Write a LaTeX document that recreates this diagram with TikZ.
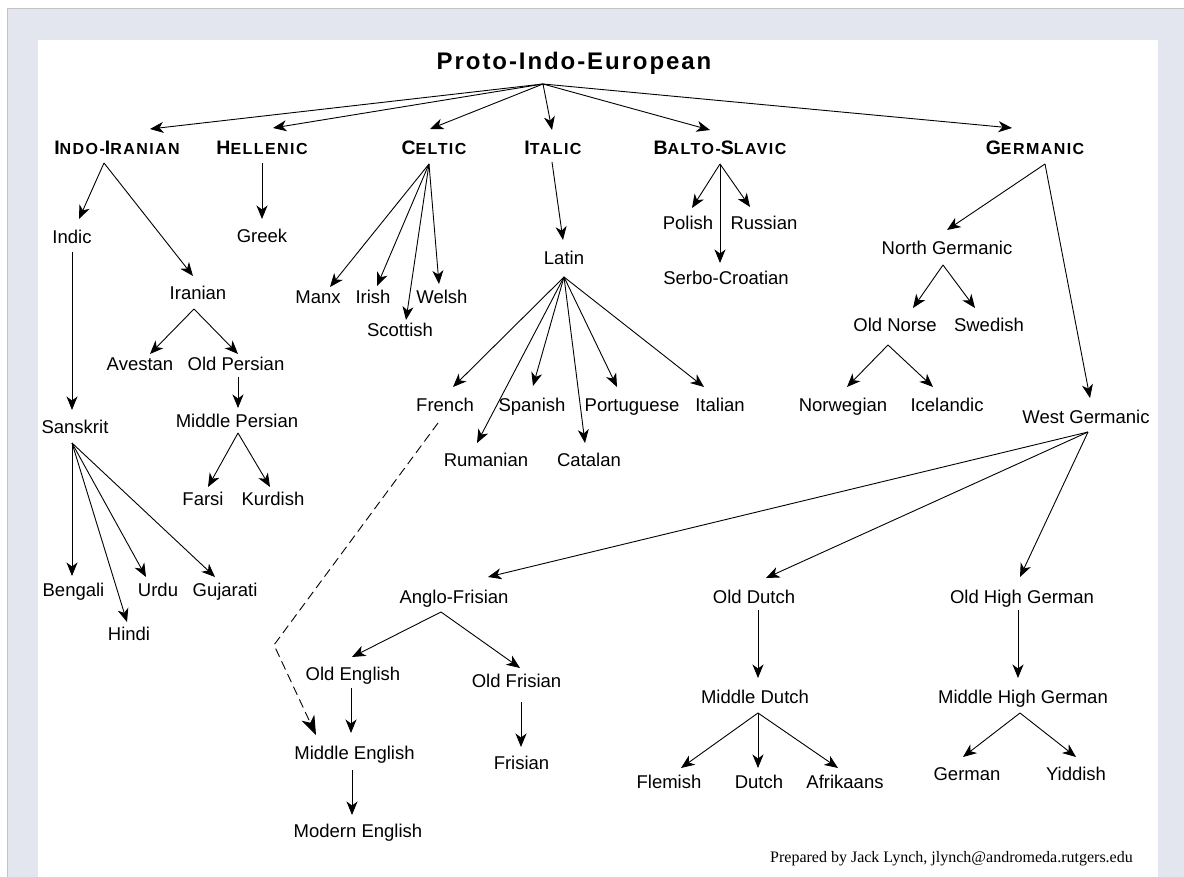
\documentclass[tikz,border=0pt]{standalone}
\usepackage{fontspec}
\setmainfont{Liberation Sans}
\newfontfamily\hdfont[LetterSpace=9]{Liberation Sans}
\newfontfamily\ttlfont[LetterSpace=8]{Liberation Sans}
\newfontfamily\crfont{Liberation Serif}
\usetikzlibrary{arrows.meta,calc}
\definecolor{pagebg}{RGB}{227,230,238}
\definecolor{edgegray}{RGB}{195,195,195}
\newcommand\HC[2]{{\fontsize{19.5}{21}\selectfont #1}{\fontsize{16}{18}\selectfont #2}}
\newcommand\edgeto[4]{\draw[arr] (#1) -- ($(#2.base)+(#3,#4)$);}
\tikzset{
 lbl/.style={font=\fontsize{18.5}{20}\selectfont, inner sep=0pt, anchor=base},
 hd/.style={font=\hdfont\bfseries, inner sep=0pt, anchor=base},
 arr/.style={line width=0.9pt, -{Stealth[length=13.5pt,width=11pt,inset=4pt]}},
 darr/.style={line width=0.9pt, dash pattern=on 9pt off 5pt, -{Stealth[length=19pt,width=14pt,inset=5.5pt]}},
}
\begin{document}
\begin{tikzpicture}[x=1pt,y=-1pt]
\useasboundingbox (0,0) rectangle (1184,877);
% background
\fill[white] (0,0) rectangle (1184,877);
\fill[pagebg] (7,8) rectangle (1184,877);
\draw[edgegray, line width=1pt] (7,877) -- (7,8.5) -- (1184,8.5);
\fill[white] (38,40) rectangle (1158,877);

% title and headings
\node[inner sep=0pt, anchor=base, font=\ttlfont\bfseries\fontsize{24}{28}\selectfont] (pie) at (574,70) {Proto-Indo-European};
\node[hd] (ii)  at (117,155) {\HC{I}{NDO-}\HC{I}{RANIAN}};
\node[hd] (hel) at (262,155) {\HC{H}{ELLENIC}};
\node[hd] (cel) at (434,155) {\HC{C}{ELTIC}};
\node[hd] (ita) at (553,155) {\HC{I}{TALIC}};
\node[hd] (bs)  at (720,155) {\HC{B}{ALTO-}\HC{S}{LAVIC}};
\node[hd] (ger) at (1035,155) {\HC{G}{ERMANIC}};

% Indo-Iranian
\node[lbl] (indic) at (72,244) {Indic};
\node[lbl] (iranian) at (198,300) {Iranian};
\node[lbl] (avestan) at (140,371) {Avestan};
\node[lbl] (oldpersian) at (236,371) {Old Persian};
\node[lbl] (midpersian) at (237,428) {Middle Persian};
\node[lbl] (farsi) at (203,505) {Farsi};
\node[lbl] (kurdish) at (273,505) {Kurdish};
\node[lbl] (sanskrit) at (75,433) {Sanskrit};
\node[lbl] (bengali) at (73.5,596) {Bengali};
\node[lbl] (urdu) at (158,596) {Urdu};
\node[lbl] (gujarati) at (225,596) {Gujarati};
\node[lbl] (hindi) at (129,640) {Hindi};
% Hellenic
\node[lbl] (greek) at (262,243) {Greek};
% Celtic
\node[lbl] (manx) at (318,304) {Manx};
\node[lbl] (irish) at (373,304) {Irish};
\node[lbl] (welsh) at (442,304) {Welsh};
\node[lbl] (scottish) at (400,337) {Scottish};
% Italic
\node[lbl] (latin) at (564,265) {Latin};
\node[lbl] (french) at (445,411) {French};
\node[lbl] (spanish) at (532,411) {Spanish};
\node[lbl] (portuguese) at (632,411) {Portuguese};
\node[lbl] (italian) at (720,411) {Italian};
\node[lbl] (rumanian) at (486,466) {Rumanian};
\node[lbl] (catalan) at (589,466) {Catalan};
% Balto-Slavic
\node[lbl] (polish) at (688,230) {Polish};
\node[lbl] (russian) at (764,230) {Russian};
\node[lbl] (serbo) at (726,285) {Serbo-Croatian};
% Germanic
\node[lbl] (northgerm) at (947,255) {North Germanic};
\node[lbl] (oldnorse) at (895,332) {Old Norse};
\node[lbl] (swedish) at (989,332) {Swedish};
\node[lbl] (norwegian) at (843,411) {Norwegian};
\node[lbl] (icelandic) at (947,411) {Icelandic};
\node[lbl] (westgerm) at (1086,423) {West Germanic};
\node[lbl] (anglofris) at (454,603) {Anglo-Frisian};
\node[lbl] (olddutch) at (754,603) {Old Dutch};
\node[lbl] (ohg) at (1022,603) {Old High German};
\node[lbl] (oldenglish) at (353,680) {Old English};
\node[lbl] (oldfrisian) at (516.5,687) {Old Frisian};
\node[lbl] (midenglish) at (354.5,759) {Middle English};
\node[lbl] (modenglish) at (358,837) {Modern English};
\node[lbl] (frisian) at (521.5,769) {Frisian};
\node[lbl] (middutch) at (755,703) {Middle Dutch};
\node[lbl] (flemish) at (669,788) {Flemish};
\node[lbl] (dutch) at (759,788) {Dutch};
\node[lbl] (afrikaans) at (845,788) {Afrikaans};
\node[lbl] (mhg) at (1023,703) {Middle High German};
\node[lbl] (german) at (967,780) {German};
\node[lbl] (yiddish) at (1076,780) {Yiddish};

\node[inner sep=0pt, anchor=base east, font=\crfont\fontsize{16}{18}\selectfont] (credit) at (1133,862) {Prepared by Jack Lynch, jlynch@andromeda.rutgers.edu};

% apex points
\coordinate (a-pie) at ($(pie.base)+(-31,14)$);
\coordinate (a-ii) at ($(ii.base)+(-13,8)$);
\coordinate (a-hel) at ($(hel.base)+(0,8)$);
\coordinate (a-cel) at ($(cel.base)+(-5,9)$);
\coordinate (a-ita) at ($(ita.base)+(-1,7)$);
\coordinate (a-bs) at ($(bs.base)+(0,9)$);
\coordinate (a-ger) at ($(ger.base)+(10,9)$);
\coordinate (a-indic) at ($(indic.base)+(0,8)$);
\coordinate (a-iranian) at ($(iranian.base)+(-4,9)$);
\coordinate (a-oldpersian) at ($(oldpersian.base)+(2,6)$);
\coordinate (a-midpersian) at ($(midpersian.base)+(1,5)$);
\coordinate (a-sanskrit) at ($(sanskrit.base)+(-3,10)$);
\coordinate (a-latin) at ($(latin.base)+(0,12)$);
\coordinate (a-northgerm) at ($(northgerm.base)+(-4,10)$);
\coordinate (a-oldnorse) at ($(oldnorse.base)+(-7,13)$);
\coordinate (a-westgerm) at ($(westgerm.base)+(2,9)$);
\coordinate (a-anglofris) at ($(anglofris.base)+(-13,9)$);
\coordinate (a-oldenglish) at ($(oldenglish.base)+(-2,8)$);
\coordinate (a-oldfrisian) at ($(oldfrisian.base)+(4.5,15)$);
\coordinate (a-midenglish) at ($(midenglish.base)+(-2.5,11)$);
\coordinate (a-french) at ($(french.base)+(-7,12)$);
\coordinate (bend) at (274,645);
\coordinate (a-olddutch) at ($(olddutch.base)+(4,7)$);
\coordinate (a-middutch) at ($(middutch.base)+(3,10)$);
\coordinate (a-ohg) at ($(ohg.base)+(-4,7)$);
\coordinate (a-mhg) at ($(mhg.base)+(-3,10)$);

% edges
\edgeto{a-pie}{ii}{33}{-26}
\edgeto{a-pie}{hel}{11}{-27}
\edgeto{a-pie}{cel}{-4}{-26}
\edgeto{a-pie}{ita}{-1}{-25}
\edgeto{a-pie}{bs}{-10}{-25}
\edgeto{a-pie}{ger}{-23}{-27}

\edgeto{a-ii}{indic}{7}{-25}
\edgeto{a-ii}{iranian}{-5}{-24}
\edgeto{a-hel}{greek}{0}{-24}
\edgeto{a-indic}{sanskrit}{-3}{-23}
\edgeto{a-iranian}{avestan}{10}{-17}
\edgeto{a-iranian}{oldpersian}{2}{-17}
\edgeto{a-oldpersian}{midpersian}{1}{-20}
\edgeto{a-midpersian}{farsi}{5}{-18}
\edgeto{a-midpersian}{kurdish}{-3}{-18}
\edgeto{a-sanskrit}{bengali}{-1.5}{-20}
\edgeto{a-sanskrit}{hindi}{-2}{-18}
\edgeto{a-sanskrit}{urdu}{-12}{-19}
\edgeto{a-sanskrit}{gujarati}{-10}{-19}

\edgeto{a-cel}{manx}{12}{-17}
\edgeto{a-cel}{irish}{4}{-18}
\edgeto{a-cel}{scottish}{6}{-17}
\edgeto{a-cel}{welsh}{-3}{-20}

\edgeto{a-ita}{latin}{-1}{-25}
\edgeto{a-latin}{french}{8}{-24}
\edgeto{a-latin}{rumanian}{-9}{-23}
\edgeto{a-latin}{spanish}{1}{-25}
\edgeto{a-latin}{catalan}{-4}{-23}
\edgeto{a-latin}{portuguese}{-15}{-24}
\edgeto{a-latin}{italian}{-16}{-24}

\edgeto{a-bs}{polish}{4}{-22}
\edgeto{a-bs}{russian}{-14}{-23}
\edgeto{a-bs}{serbo}{-6}{-22}

\edgeto{a-ger}{northgerm}{0}{-25}
\edgeto{a-ger}{westgerm}{4}{-25}
\edgeto{a-northgerm}{oldnorse}{18}{-24}
\edgeto{a-northgerm}{swedish}{-14}{-24}
\edgeto{a-oldnorse}{norwegian}{4}{-24}
\edgeto{a-oldnorse}{icelandic}{-14}{-24}

\edgeto{a-westgerm}{anglofris}{34}{-26}
\edgeto{a-westgerm}{olddutch}{12}{-25}
\edgeto{a-westgerm}{ohg}{-2}{-26}
\edgeto{a-anglofris}{oldenglish}{-1}{-23}
\edgeto{a-anglofris}{oldfrisian}{3.5}{-19}
\edgeto{a-oldenglish}{midenglish}{-3.5}{-26}
\edgeto{a-oldfrisian}{frisian}{-0.5}{-22}
\edgeto{a-midenglish}{modenglish}{-6}{-22}
\draw[darr] (a-french) -- (bend) -- ($(midenglish.base)+(-38.5,-24)$);

\edgeto{a-olddutch}{middutch}{3}{-25}
\edgeto{a-middutch}{flemish}{12}{-20}
\edgeto{a-middutch}{dutch}{-1}{-20}
\edgeto{a-middutch}{afrikaans}{-7}{-20}
\edgeto{a-ohg}{mhg}{-5}{-25}
\edgeto{a-mhg}{german}{-4}{-23}
\edgeto{a-mhg}{yiddish}{0}{-23}
\end{tikzpicture}
\end{document}
